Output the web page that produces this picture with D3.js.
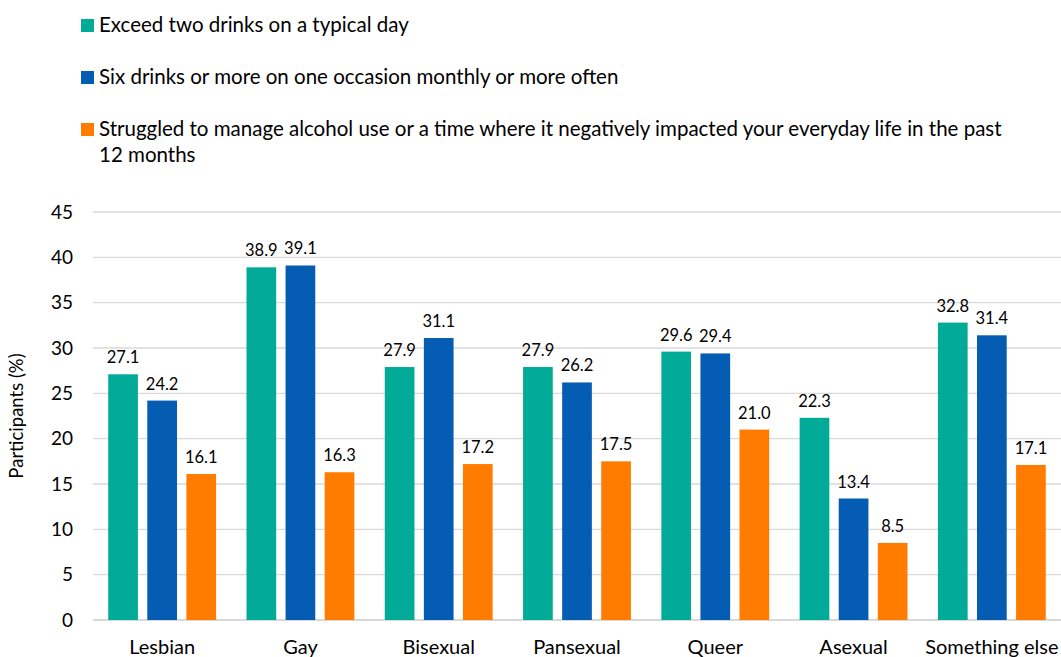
<!DOCTYPE html>
<html>
<head>
<meta charset="utf-8">
<script src="https://cdn.jsdelivr.net/npm/d3@7"></script>
<style>
  body { margin: 0; background: #fff; }
  svg { display: block; font-family: Lato, "Open Sans", sans-serif; }
</style>
</head>
<body>
<svg id="chart" width="1061" height="657"></svg>
<script>
// categories and series
var categories = ['Lesbian', 'Gay', 'Bisexual', 'Pansexual', 'Queer', 'Asexual', 'Something else'];
var seriesNames = [
  'Exceed two drinks on a typical day',
  'Six drinks or more on one occasion monthly or more often',
  'Struggled to manage alcohol use or a time where it negatively impacted your everyday life in the past 12 months'
];
var exceedTwo = [27.1, 38.9, 27.9, 27.9, 29.6, 22.3, 32.8];
var sixOrMore = [24.2, 39.1, 31.1, 26.2, 29.4, 13.4, 31.4];
var struggled = [16.1, 16.3, 17.2, 17.5, 21.0, 8.5, 17.1];
var yTicks = [0, 5, 10, 15, 20, 25, 30, 35, 40, 45];
var colors = ['#02aa98', '#045cb3', '#ff7c00'];

var series = [exceedTwo, sixOrMore, struggled];

var svg = d3.select('#chart');
var plotL = 93, plotR = 1061, plotT = 212, plotB = 620;

var x = d3.scaleBand().domain(categories).range([plotL, plotR]).paddingInner(0.22).paddingOuter(0.11);
var xs = d3.scaleBand().domain(d3.range(3)).range([0, x.bandwidth()]).paddingInner(0.24);
var y = d3.scaleLinear().domain([0, 45]).range([plotB, plotT]);

// grid
svg.append('g').selectAll('line').data(yTicks).enter().append('line')
  .attr('x1', plotL).attr('x2', plotR)
  .attr('y1', function(d){ return y(d); }).attr('y2', function(d){ return y(d); })
  .attr('stroke', '#d9d9d9').attr('stroke-width', function(d){ return d == 0 ? 2 : 1.3; });

// y axis
var yAxis = svg.append('g').attr('transform', 'translate(' + plotL + ',0)')
  .call(d3.axisLeft(y).tickValues(yTicks).tickSize(0).tickPadding(20));
yAxis.select('.domain').remove();
yAxis.selectAll('text').attr('font-size', 19).attr('fill', '#000').attr('font-family', 'Lato, sans-serif');

svg.append('text').attr('transform', 'translate(23,' + (plotT + plotB) / 2 + ') rotate(-90)')
  .attr('text-anchor', 'middle').attr('font-size', 18.5).attr('fill', '#000').text('Participants (%)');

// x axis
var xAxis = svg.append('g').attr('transform', 'translate(0,' + plotB + ')')
  .call(d3.axisBottom(x).tickSize(0).tickPadding(20));
xAxis.select('.domain').remove();
xAxis.selectAll('text').attr('font-size', 20).attr('fill', '#000').attr('font-family', 'Lato, sans-serif');

// bars
series.forEach(function(vals, si){
  var g = svg.append('g');
  g.selectAll('rect').data(vals).enter().append('rect')
    .attr('x', function(d, i){ return x(categories[i]) + xs(si); })
    .attr('width', xs.bandwidth())
    .attr('y', function(d){ return y(d); })
    .attr('height', function(d){ return plotB - y(d); })
    .attr('fill', colors[si]);
  g.selectAll('text').data(vals).enter().append('text')
    .attr('x', function(d, i){ return x(categories[i]) + xs(si) + xs.bandwidth() / 2; })
    .attr('y', function(d){ return y(d) - 11; })
    .attr('text-anchor', 'middle').attr('font-size', 16.5).attr('fill', '#000')
    .text(function(d){ return d.toFixed(1); });
});

// legend
var legendY = [32, 84, 136];
var legend = svg.append('g');
seriesNames.forEach(function(name, i){
  legend.append('rect').attr('x', 81).attr('y', legendY[i] - 13).attr('width', 13).attr('height', 13).attr('fill', colors[i]);
  var t = legend.append('text').attr('x', 99).attr('y', legendY[i]).attr('font-size', 20.5).attr('fill', '#000');
  if (i == 2) {
    t.append('tspan').attr('x', 99).text('Struggled to manage alcohol use or a time where it negatively impacted your everyday life in the past');
    t.append('tspan').attr('x', 99).attr('dy', 26).text('12 months');
  } else {
    t.text(name);
  }
});
</script>
</body>
</html>
